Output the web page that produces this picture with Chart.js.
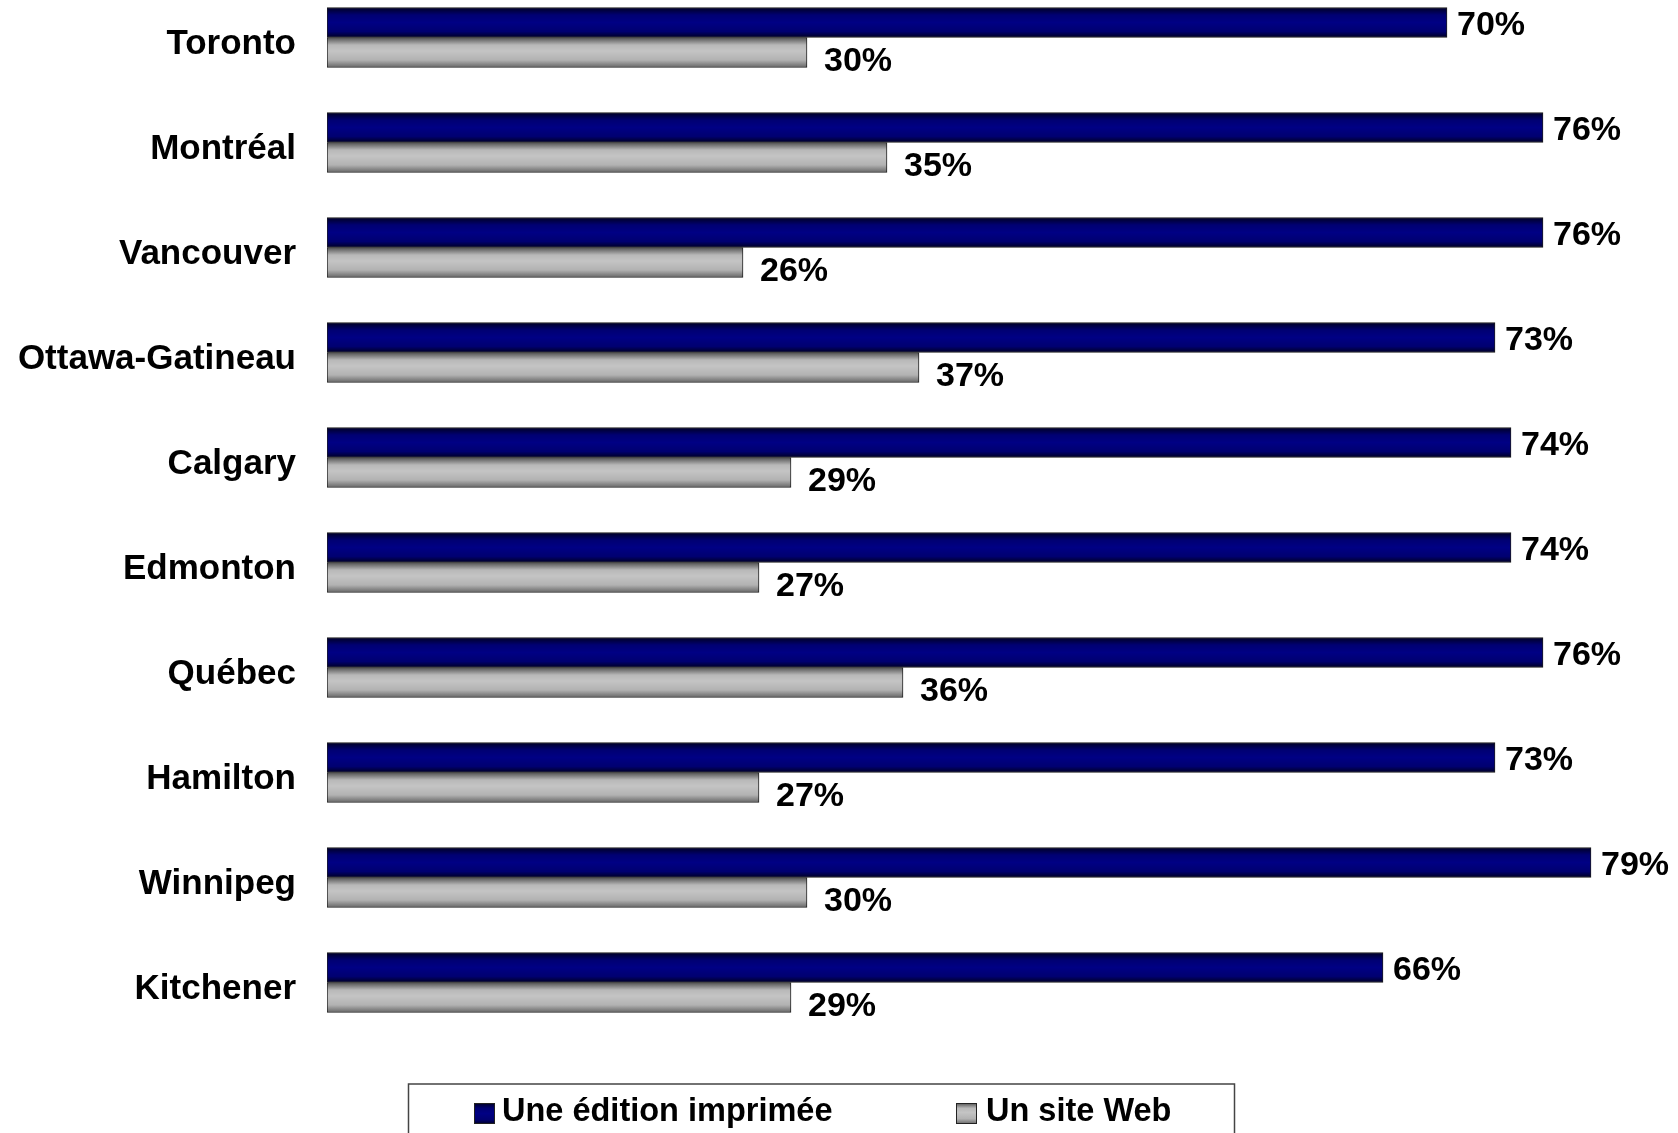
<!DOCTYPE html>
<html>
<head>
<meta charset="utf-8">
<script src="https://cdn.jsdelivr.net/npm/chart.js@4.4.0/dist/chart.umd.min.js"></script>
<style>
  html, body { margin: 0; padding: 0; background: #fff; overflow: hidden; }
  #wrap { position: absolute; left: 0; top: -15px; width: 1678px; height: 1148px; }
</style>
</head>
<body>
<div id="wrap"><canvas id="cities-chart"></canvas></div>
<script>
var cities = ["Toronto", "Montréal", "Vancouver", "Ottawa-Gatineau", "Calgary", "Edmonton", "Québec", "Hamilton", "Winnipeg", "Kitchener"];
var seriesNames = ["Une édition imprimée", "Un site Web"];
var printShare = [70, 76, 76, 73, 74, 74, 76, 73, 79, 66];
var webShare = [30, 35, 26, 37, 29, 27, 36, 27, 30, 29];

var FONT = "'Liberation Sans', Arial, Helvetica, sans-serif";
var BAR = 30;

// vertical shading for each series: dark edges, lighter middle
var shades = [
  [[0, '#000022'], [0.25, '#000072'], [0.5, '#000084'], [0.8, '#000070'], [1, '#000022']],
  [[0, '#525252'], [0.25, '#b8b8b8'], [0.45, '#c4c4c4'], [0.75, '#b2b2b2'], [1, '#666666']]
];

function vGradient(g, top, h, stops) {
  var grad = g.createLinearGradient(0, top, 0, top + h);
  stops.forEach(function (s) { grad.addColorStop(s[0], s[1]); });
  return grad;
}

function barFill(context) {
  var chart = context.chart;
  var stops = shades[context.datasetIndex];
  var y = chart.scales.y;
  if (context.type !== 'data' || !y) return stops[2][1];
  var c = y.getPixelForValue(context.dataIndex);
  if (!isFinite(c)) return stops[2][1];
  var top = context.datasetIndex === 0 ? c - BAR : c;
  return vGradient(chart.ctx, top, BAR, stops);
}

// "70%" style labels just past the end of each bar
var valueLabels = {
  id: 'valueLabels',
  afterDatasetsDraw: function (chart) {
    var g = chart.ctx;
    var shift = [[10, 3], [17, 9]];
    g.save();
    g.font = 'bold 34px ' + FONT;
    g.fillStyle = '#000';
    g.textBaseline = 'middle';
    g.textAlign = 'left';
    chart.data.datasets.forEach(function (ds, d) {
      chart.getDatasetMeta(d).data.forEach(function (bar, i) {
        g.fillText(ds.data[i] + '%', bar.x + shift[d][0], bar.y + shift[d][1]);
      });
    });
    g.restore();
  }
};

// framed legend under the plot
var boxLegend = {
  id: 'boxLegend',
  afterDraw: function (chart) {
    var g = chart.ctx;
    var top = chart.chartArea.bottom + 49;
    var items = [{ box: 474, text: 502 }, { box: 956, text: 986 }];
    g.save();
    g.strokeStyle = '#444';
    g.lineWidth = 1.5;
    g.strokeRect(408.5, top, 826, 80);
    g.font = 'bold 32.5px ' + FONT;
    g.textBaseline = 'middle';
    chart.data.datasets.forEach(function (ds, d) {
      var it = items[d];
      var by = top + 19;
      g.fillStyle = vGradient(g, by, 21, shades[d]);
      g.fillRect(it.box, by, 21, 21);
      g.strokeStyle = '#222';
      g.lineWidth = 1;
      g.strokeRect(it.box + 0.5, by + 0.5, 20, 20);
      g.fillStyle = '#000';
      g.fillText(ds.label, it.text, top + 28);
    });
    g.restore();
  }
};

Chart.defaults.font.family = FONT;
Chart.defaults.color = '#000';

var ctx = document.getElementById("cities-chart").getContext('2d');
var myChart = new Chart(ctx, {
    type: 'bar',
    data: {
      labels: cities,
      datasets: [{
          label: seriesNames[0],
          data: printShare,
          backgroundColor: barFill,
          borderColor: '#1e1e1e',
          borderWidth: 1,
          borderSkipped: false,
          barThickness: BAR
      }, {
          label: seriesNames[1],
          data: webShare,
          backgroundColor: barFill,
          borderColor: '#1e1e1e',
          borderWidth: 1,
          borderSkipped: false,
          barThickness: BAR
      }]
    },
    options: {
      indexAxis: 'y',
      responsive: true,
      maintainAspectRatio: false,
      animation: false,
      layout: { padding: { top: 0, right: 7, bottom: 98, left: 0 } },
      scales: {
        x: {
          display: false,
          min: 0,
          max: 84
        },
        y: {
          grid: { display: false, drawTicks: false },
          border: { display: false },
          ticks: {
            font: { size: 35, weight: 'bold' },
            color: '#000',
            padding: 31,
            labelOffset: 7
          },
          afterFit: function (scale) {
            scale.width = 327;
            scale.paddingTop = 0;
            scale.paddingBottom = 0;
          }
        }
      },
      plugins: {
        legend: { display: false },
        tooltip: { enabled: false }
      }
    },
    plugins: [valueLabels, boxLegend]
});
</script>
</body>
</html>
